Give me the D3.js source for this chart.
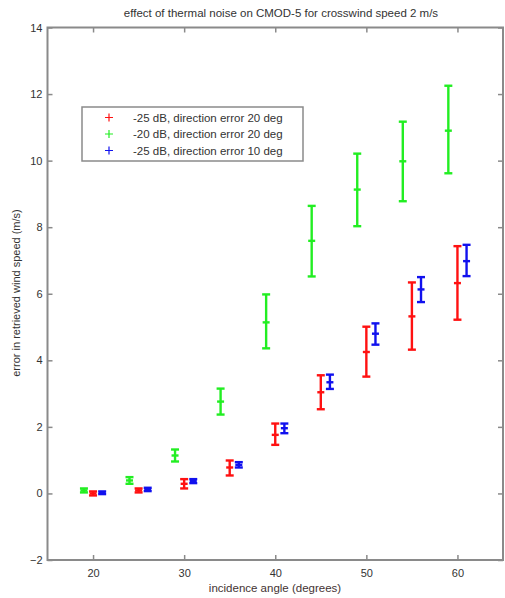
<!DOCTYPE html>
<html>
<head>
<meta charset="utf-8">
<script src="https://cdn.jsdelivr.net/npm/d3@7"></script>
<style>
  body { margin: 0; background: #fff; }
  text { font-family: "Liberation Sans", Arial, sans-serif; }
</style>
</head>
<body>
<div id="chart"></div>
<script>
// incidence angles per series (series are offset by 1 degree)
var angGreen = [19, 24, 29, 34, 39, 44, 49, 54, 59];
var angRed   = [20, 25, 30, 35, 40, 45, 50, 55, 60];
var angBlue  = [21, 26, 31, 36, 41, 46, 51, 56, 61];

// mean error and lower / upper bar ends (m/s)
var meanGreen = [0.09, 0.39, 1.14, 2.76, 5.14, 7.59, 9.13, 9.98, 10.9];
var lowGreen  = [0.03, 0.29, 0.96, 2.37, 4.36, 6.52, 8.03, 8.78, 9.62];
var highGreen = [0.15, 0.49, 1.32, 3.15, 5.98, 8.64, 10.21, 11.17, 12.25];

var meanRed = [0.0, 0.09, 0.29, 0.78, 1.76, 3.04, 4.25, 5.32, 6.32];
var lowRed  = [-0.06, 0.03, 0.15, 0.54, 1.46, 2.53, 3.51, 4.32, 5.22];
var highRed = [0.06, 0.15, 0.43, 0.99, 2.1, 3.55, 5.01, 6.34, 7.43];

var meanBlue = [0.02, 0.12, 0.37, 0.86, 1.96, 3.34, 4.8, 6.13, 6.98];
var lowBlue  = [-0.02, 0.07, 0.31, 0.78, 1.81, 3.14, 4.47, 5.75, 6.53];
var highBlue = [0.06, 0.17, 0.43, 0.94, 2.1, 3.57, 5.11, 6.5, 7.47];

var legendLabels = ["-25 dB, direction error 20 deg", "-20 dB, direction error 20 deg", "-25 dB, direction error 10 deg"];
var xTicks = [20, 30, 40, 50, 60];
var yTicks = [-2, 0, 2, 4, 6, 8, 10, 12, 14];

var W = 505, H = 598;
var plotL = 47.5, plotR = 503, plotT = 27.5, plotB = 560;

var svg = d3.select("#chart").append("svg")
    .attr("width", W)
    .attr("height", H);

var x = d3.scaleLinear().domain([15, 65]).range([plotL, plotR]);
var y = d3.scaleLinear().domain([-2, 14]).range([plotB, plotT]);

var axisCol = "#8a8a8a";
var textCol = "#333";

// axes box with inward ticks (MATLAB style)
function styleAxis(g) {
  g.select(".domain").remove();
  g.selectAll("line").attr("stroke", axisCol).attr("stroke-width", 1.5);
  g.selectAll("text").attr("fill", textCol).attr("font-size", 11);
}

svg.append("g")
    .attr("transform", "translate(0," + plotB + ")")
    .call(d3.axisBottom(x).tickValues(xTicks).tickSize(-5).tickPadding(9))
    .call(styleAxis);
svg.append("g")
    .attr("transform", "translate(0," + plotT + ")")
    .call(d3.axisTop(x).tickValues(xTicks).tickSize(-5).tickFormat(""))
    .call(styleAxis);
svg.append("g")
    .attr("transform", "translate(" + plotL + ",0)")
    .call(d3.axisLeft(y).tickValues(yTicks).tickSize(-5).tickPadding(5))
    .call(styleAxis);
svg.append("g")
    .attr("transform", "translate(" + plotR + ",0)")
    .call(d3.axisRight(y).tickValues(yTicks).tickSize(-5).tickFormat(""))
    .call(styleAxis);

svg.append("rect")
    .attr("x", plotL).attr("y", plotT)
    .attr("width", plotR - plotL).attr("height", plotB - plotT)
    .attr("fill", "none")
    .attr("stroke", axisCol)
    .attr("stroke-width", 2);

// error bars
function drawSeries(ang, mean, low, high, col) {
  var rows = ang.map(function(a, i) {
    return { a: a, m: mean[i], lo: low[i], hi: high[i] };
  });
  var g = svg.append("g")
      .attr("stroke", col)
      .attr("stroke-width", 2.4);
  var cap = 4;
  rows.forEach(function(d) {
    var cx = x(d.a);
    g.append("line")
        .attr("x1", cx).attr("x2", cx)
        .attr("y1", y(d.lo)).attr("y2", y(d.hi));
    g.append("line")
        .attr("x1", cx - cap).attr("x2", cx + cap)
        .attr("y1", y(d.lo)).attr("y2", y(d.lo));
    g.append("line")
        .attr("x1", cx - cap).attr("x2", cx + cap)
        .attr("y1", y(d.hi)).attr("y2", y(d.hi));
    // '+' marker at the mean
    g.append("line")
        .attr("x1", cx - 3.5).attr("x2", cx + 3.5)
        .attr("y1", y(d.m)).attr("y2", y(d.m));
  });
}

drawSeries(angGreen, meanGreen, lowGreen, highGreen, "#22ee22");
drawSeries(angRed, meanRed, lowRed, highRed, "#ff1111");
drawSeries(angBlue, meanBlue, lowBlue, highBlue, "#1111ee");

// legend
var legCols = ["#ff1111", "#22ee22", "#1111ee"];
var leg = svg.append("g");
leg.append("rect")
    .attr("x", 82).attr("y", 107)
    .attr("width", 221).attr("height", 54)
    .attr("fill", "#fff")
    .attr("stroke", axisCol)
    .attr("stroke-width", 1.5);
legendLabels.forEach(function(lab, i) {
  var ly = 117.5 + i * 16.5;
  leg.append("path")
      .attr("d", "M105," + ly + "h8M109," + (ly - 4) + "v8")
      .attr("stroke", legCols[i])
      .attr("stroke-width", 1.2);
  leg.append("text")
      .attr("x", 133).attr("y", ly + 4)
      .attr("font-size", 11.5)
      .attr("fill", textCol)
      .text(lab);
});

// titles
svg.append("text")
    .attr("x", 281).attr("y", 17)
    .attr("text-anchor", "middle")
    .attr("font-size", 11.5)
    .attr("fill", textCol)
    .text("effect of thermal noise on CMOD-5 for crosswind speed 2 m/s");

svg.append("text")
    .attr("x", 275).attr("y", 592)
    .attr("text-anchor", "middle")
    .attr("font-size", 11.5)
    .attr("fill", "#443333")
    .text("incidence angle (degrees)");

svg.append("text")
    .attr("transform", "translate(20,293) rotate(-90)")
    .attr("text-anchor", "middle")
    .attr("font-size", 11)
    .attr("fill", textCol)
    .text("error in retrieved wind speed (m/s)");
</script>
</body>
</html>
